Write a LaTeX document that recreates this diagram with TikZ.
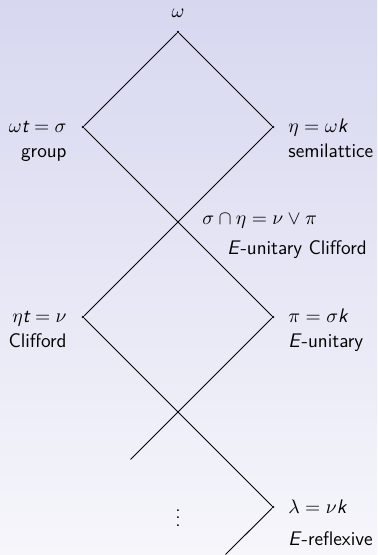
\documentclass[tikz,border=0pt]{standalone}
\usepackage{amssymb}
\usepackage{amsmath}
\usepackage{xcolor}
\usepackage{tikz}
\usetikzlibrary{calc,positioning}
\renewcommand{\familydefault}{\sfdefault}
\newcommand{\svar}[1]{\mathord{\text{\itshape #1}}}
\definecolor{bgtop}{RGB}{215,215,240}
\definecolor{bgbot}{RGB}{246,246,251}

\begin{document}
\begin{tikzpicture}[x=53.2pt,y=53.2pt,
  vtx/.style={circle,fill,inner sep=0pt,minimum size=1.6pt},
  lbl/.style={inner sep=0pt,font=\fontsize{11}{14}\selectfont},
  edge/.style={line width=0.5pt}]
\useasboundingbox (-1.874,-5.505) rectangle (2.095,0.337);
\shade[top color=bgtop,bottom color=bgbot] (-1.874,-5.505) rectangle (2.095,0.337);
% lattice points
\node[vtx] (w) at (0,0) {};
\node[vtx] (s) at (-1,-1) {};
\node[vtx] (e) at (1,-1) {};
\node[vtx] (n) at (-1,-3) {};
\node[vtx] (p) at (1,-3) {};
\node[vtx] (l) at (1,-5) {};
\coordinate (sn) at (0,-2);
\coordinate (pend) at (-0.5,-4.5);
\coordinate (lend) at (0.5,-5.5);
% edges
\draw[edge] (s) -- (w) -- (e);
\draw[edge] (s) -- (p);
\draw[edge] (e) -- (n);
\draw[edge] (n) -- (l) -- (lend);
\draw[edge] (p) -- (pend);
% labels (base = baseline of the second line)
\node[lbl, above=7pt of w] (wl) {$\omega$};
\node[lbl, align=right, anchor=base east] (sl) at ($(s)+(-9pt,-16.8pt)$) {$\omega\svar{t}=\sigma$\\group};
\node[lbl, align=left, anchor=base west] (el) at ($(e)+(8.4pt,-16.8pt)$) {$\eta=\omega\svar{k}$\\semilattice};
\node[lbl, anchor=west] (snl) at ($(sn)+(13.4pt,0.5pt)$) {$\sigma\cap\eta=\nu\vee\pi$};
\node[lbl, anchor=west] (snt) at ($(sn)+(27.4pt,-15.7pt)$) {\textit{E}-unitary Clifford};
\node[lbl, align=right, anchor=base east] (nl) at ($(n)+(-9pt,-16.8pt)$) {$\eta\svar{t}=\nu$\\Clifford};
\node[lbl, align=left, anchor=base west] (pl) at ($(p)+(8.4pt,-16.8pt)$) {$\pi=\sigma\svar{k}$\\\textit{E}-unitary};
\node[lbl, align=left, anchor=base west] (ll) at ($(l)+(8.4pt,-21.6pt)$) {$\lambda=\nu\svar{k}$\\[4pt]\textit{E}-reflexive};
\node[lbl] (dots) at (0,-5.06) {$\vdots$};
\end{tikzpicture}
\end{document}
